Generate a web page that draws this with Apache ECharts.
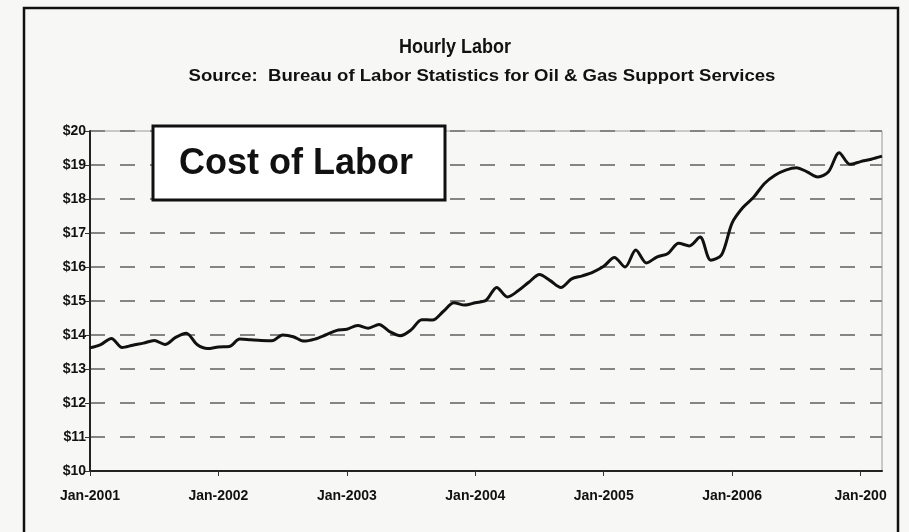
<!DOCTYPE html>
<html>
<head>
<meta charset="utf-8">
<script src="https://cdn.jsdelivr.net/npm/echarts@6/dist/echarts.min.js"></script>
<style>
html,body{margin:0;padding:0;background:#f7f7f6;}
#chart{width:909px;height:532px;}
</style>
</head>
<body>
<div id="chart"></div>
<script>
// Year labels shown at each January tick (last one is cut off in the original)
var tickLabels = ['Jan-2001','Jan-2002','Jan-2003','Jan-2004','Jan-2005','Jan-2006','Jan-200'];
var monthNames = ['Jan','Feb','Mar','Apr','May','Jun','Jul','Aug','Sep','Oct','Nov','Dec'];
var years = [2001,2002,2003,2004,2005,2006,2007];

// Hourly labor cost, monthly Jan-2001 .. Mar-2007
var values2001 = [13.62,13.72,13.90,13.63,13.70,13.76,13.84,13.72,13.93,14.05,13.72,13.60];
var values2002 = [13.65,13.66,13.88,13.86,13.84,13.83,14.00,13.95,13.82,13.88,14.00,14.13];
var values2003 = [14.17,14.28,14.20,14.31,14.10,13.98,14.15,14.45,14.44,14.69,14.95,14.88];
var values2004 = [14.95,15.02,15.40,15.12,15.30,15.55,15.78,15.60,15.40,15.65,15.74,15.85];
var values2005 = [16.02,16.28,16.00,16.50,16.12,16.30,16.40,16.70,16.62,16.88,16.20,16.35];
var values2006 = [17.30,17.75,18.05,18.45,18.70,18.85,18.92,18.80,18.65,18.80,19.36,19.02];
var values2007 = [19.10,19.17,19.26];

var yTicks = [10,11,12,13,14,15,16,17,18,19,20];

var values = [].concat(values2001,values2002,values2003,values2004,values2005,values2006,values2007);
var categories = [];
for (var i = 0; i < values.length; i++) {
  categories.push(monthNames[i % 12] + '-' + years[Math.floor(i / 12)]);
}

var chart = echarts.init(document.getElementById('chart'), null, {renderer:'canvas'});
var font = 'Arial, "Liberation Sans", sans-serif';
chart.setOption({
  backgroundColor: '#f7f7f6',
  animation: false,
  grid: {left: 90, right: 27, top: 131, bottom: 61, show: true, borderColor: '#9a9a9a', borderWidth: 1, backgroundColor: 'transparent'},
  xAxis: {
    type: 'category',
    data: categories,
    boundaryGap: false,
    axisLine: {lineStyle: {color: '#222', width: 2}},
    axisTick: {show: true, length: 5, interval: function(idx){ return idx % 12 === 0; }, lineStyle: {color: '#333', width: 1}},
    axisLabel: {
      interval: function(idx){ return idx % 12 === 0; },
      formatter: function(v, idx){ return tickLabels[Math.floor(idx / 12)]; },
      color: '#111', fontSize: 14, fontWeight: 'bold', fontFamily: font, margin: 18
    },
    splitLine: {show: false}
  },
  yAxis: {
    type: 'value',
    min: yTicks[0], max: yTicks[yTicks.length - 1], interval: 1,
    axisLine: {show: true, lineStyle: {color: '#222', width: 2}},
    axisTick: {show: true, length: 5, lineStyle: {color: '#333', width: 1}},
    axisLabel: {formatter: function(v){ return '$' + v; }, color: '#111', fontSize: 14, fontWeight: 'bold', fontFamily: font, margin: 4},
    splitLine: {show: true, lineStyle: {color: '#858585', width: 2, type: [15, 15]}}
  },
  series: [{
    type: 'line',
    data: values,
    smooth: 0.3,
    showSymbol: false,
    lineStyle: {color: '#111', width: 3},
    z: 5
  }],
  graphic: [
    {type: 'rect', shape: {x: 24, y: 8, width: 874, height: 540}, style: {fill: 'none', stroke: '#111', lineWidth: 2.5}, z: 100},
    {type: 'text', x: 455, y: 47, scaleX: 0.9, style: {text: 'Hourly Labor', font: 'bold 20px ' + font, fill: '#111', textAlign: 'center', textVerticalAlign: 'middle'}},
    {type: 'text', x: 482, y: 77, scaleX: 1.16, style: {text: 'Source:  Bureau of Labor Statistics for Oil & Gas Support Services', font: 'bold 16px ' + font, fill: '#111', textAlign: 'center', textVerticalAlign: 'middle'}},
    {type: 'rect', shape: {x: 153, y: 126, width: 292, height: 74}, style: {fill: '#ffffff', stroke: '#111', lineWidth: 3}, z: 50},
    {type: 'text', x: 296, y: 164, style: {text: 'Cost of Labor', font: 'bold 36px ' + font, fill: '#111', textAlign: 'center', textVerticalAlign: 'middle'}, z: 51}
  ]
});
</script>
</body>
</html>
